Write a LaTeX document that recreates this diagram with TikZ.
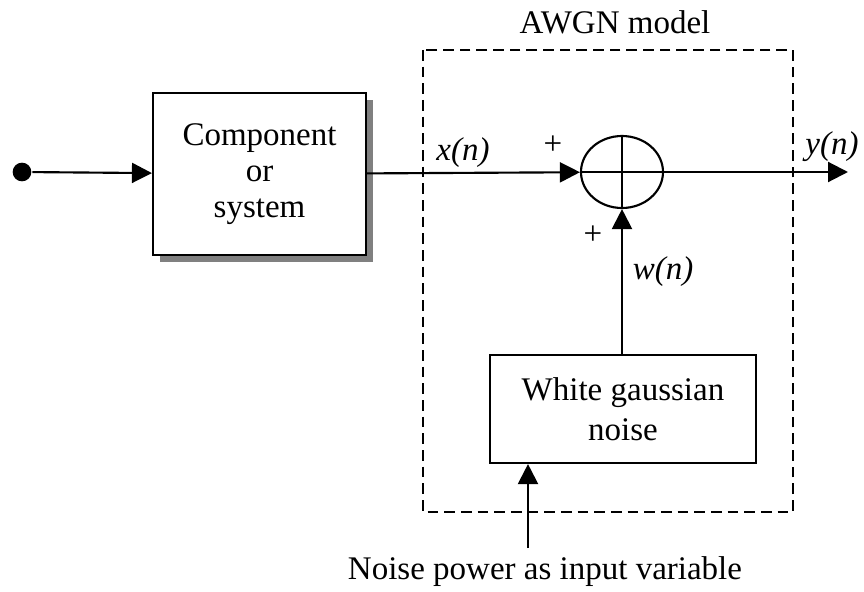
\documentclass[tikz,border=0pt]{standalone}
\usepackage{fontspec}
\setmainfont{Liberation Serif}
\usepackage{tikz}
\usetikzlibrary{positioning, arrows.meta, shapes.geometric, shadows, calc}

\begin{document}
\begin{tikzpicture}[x=0.75pt, y=-0.75pt, line width=1.6pt,
    >={Triangle[length=15pt, width=15pt]},
    every node/.style={font=\fontsize{24.75}{27}\selectfont}]
  \useasboundingbox (0,0) rectangle (864,592);
  % awgn frame
  \draw[dash pattern=on 8pt off 4.5pt, line width=2.2pt] (423,50) rectangle (793,512);
  \node (awgn) at (615,22) {AWGN model};
  % blocks
  \node[circle, fill, inner sep=0pt, minimum size=14pt] (src) at (22,172) {};
  \node[draw, fill=white, align=center, minimum width=159.75pt, minimum height=121.5pt,
        drop shadow={shadow xshift=5pt, shadow yshift=-5.5pt, fill=gray, opacity=1}] (comp) at (259.5,174) {Component\\or\\system};
  \node[ellipse, draw, inner sep=0pt, minimum width=61.5pt, minimum height=54pt] (sum) at (622,172) {};
  \draw (sum.north) -- (sum.south) (sum.west) -- (sum.east);
  \node[draw, align=center, minimum width=199.5pt, minimum height=81pt,
        font=\fontsize{24.75}{30}\selectfont] (wgn) at (623,409) {White gaussian\\noise};
  \coordinate (out) at (848,172);
  \node (np) at (545,572) {Noise power as input variable};
  \coordinate (pw) at (528,548);
  % connectors
  \draw[->] (src) -- (comp);
  \draw[->] (comp) -- (sum);
  \draw[->] (sum) -- (out);
  \draw[->] (wgn.north -| sum.south) -- (sum.south);
  \draw[->] (pw) -- (pw |- wgn.south);
  % signal labels
  \node (xn) at (463,153) {\textit{x(n)}};
  \node (yn) at (832,147) {\textit{y(n)}};
  \node (wn) at (663,272) {\textit{w(n)}};
  \node (p1) at (553,145) {+};
  \node (p2) at (593,235) {+};
\end{tikzpicture}
\end{document}
